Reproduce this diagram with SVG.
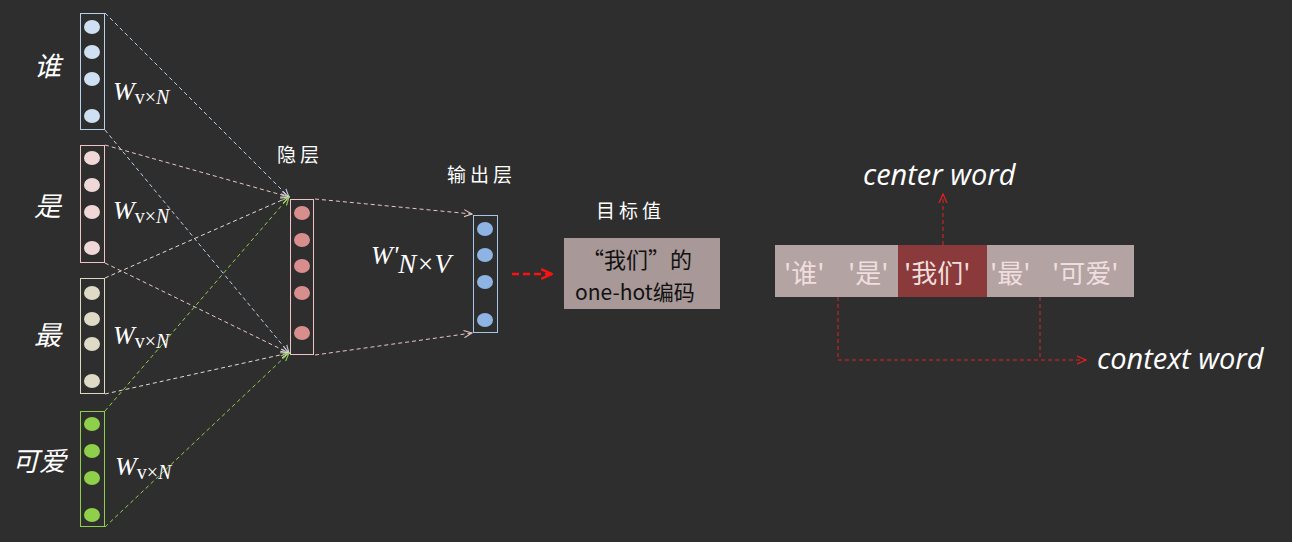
<svg xmlns="http://www.w3.org/2000/svg" width="1292" height="542" viewBox="0 0 1292 542">
<style>
.lbl{font-family:"Noto Sans CJK SC",sans-serif;font-style:italic;font-size:27px;fill:#ffffff}
.hd{font-family:"Noto Sans CJK SC",sans-serif;font-size:19px;fill:#ffffff;letter-spacing:4px}
.w{font-family:"Liberation Serif",serif;font-style:italic;font-size:26px;fill:#ffffff}
.ws{font-family:"Liberation Serif",serif;font-style:normal;font-size:20px;fill:#ffffff}
.en{font-family:"Open Sans","Liberation Sans",sans-serif;font-style:italic;font-size:29px;fill:#ffffff}
.tok{font-family:"Noto Sans CJK SC",sans-serif;font-size:26px;fill:#f0dede}
.c{stroke-width:1;fill:none;stroke-dasharray:4 3}
</style>
<defs>
<marker id="ab" viewBox="0 0 10 10" refX="9" refY="5" markerWidth="9" markerHeight="9" orient="auto" markerUnits="userSpaceOnUse"><path d="M0,1 L9,5 L0,9" fill="none" stroke="#b8d0ea" stroke-width="1.2"/></marker>
<marker id="ap" viewBox="0 0 10 10" refX="9" refY="5" markerWidth="9" markerHeight="9" orient="auto" markerUnits="userSpaceOnUse"><path d="M0,1 L9,5 L0,9" fill="none" stroke="#e8c8c8" stroke-width="1.2"/></marker>
<marker id="aw" viewBox="0 0 10 10" refX="9" refY="5" markerWidth="9" markerHeight="9" orient="auto" markerUnits="userSpaceOnUse"><path d="M0,1 L9,5 L0,9" fill="none" stroke="#e0ddd0" stroke-width="1.2"/></marker>
<marker id="ag" viewBox="0 0 10 10" refX="9" refY="5" markerWidth="9" markerHeight="9" orient="auto" markerUnits="userSpaceOnUse"><path d="M0,1 L9,5 L0,9" fill="none" stroke="#8fcf4a" stroke-width="1.2"/></marker>
<marker id="ar" viewBox="0 0 10 10" refX="9" refY="5" markerWidth="10" markerHeight="10" orient="auto" markerUnits="userSpaceOnUse"><path d="M0,1 L9,5 L0,9" fill="none" stroke="#e02020" stroke-width="1.3"/></marker>
<marker id="arb" viewBox="0 0 10 10" refX="9" refY="5" markerWidth="12" markerHeight="12" orient="auto" markerUnits="userSpaceOnUse"><path d="M0,1 L9,5 L0,9" fill="none" stroke="#ff1010" stroke-width="2"/></marker>
</defs>
<rect width="1292" height="542" fill="#2e2e2e"/>

<g id="connectors">
<line class="c" x1="105" y1="13" x2="289" y2="197" stroke="#b8d0ea" marker-end="url(#ab)"/>
<line class="c" x1="105" y1="130" x2="289" y2="353" stroke="#b8d0ea" marker-end="url(#ab)"/>
<line class="c" x1="105" y1="145" x2="289" y2="197" stroke="#e8c8c8" marker-end="url(#ap)"/>
<line class="c" x1="105" y1="263" x2="289" y2="353" stroke="#e8c8c8" marker-end="url(#ap)"/>
<line class="c" x1="105" y1="278" x2="289" y2="197" stroke="#e0ddd0" marker-end="url(#aw)"/>
<line class="c" x1="105" y1="394" x2="289" y2="353" stroke="#e0ddd0" marker-end="url(#aw)"/>
<line class="c" x1="105" y1="411" x2="289" y2="197" stroke="#8fcf4a" marker-end="url(#ag)"/>
<line class="c" x1="105" y1="527" x2="289" y2="353" stroke="#8fcf4a" marker-end="url(#ag)"/>
<line class="c" x1="315" y1="199" x2="472" y2="214" stroke="#e8c8c8" marker-end="url(#ap)"/>
<line class="c" x1="315" y1="355" x2="472" y2="333" stroke="#e8c8c8" marker-end="url(#ap)"/>
<line x1="512" y1="274" x2="552" y2="274" stroke="#ff1010" stroke-width="2.5" stroke-dasharray="7 4" marker-end="url(#arb)"/>
<line class="c" x1="943" y1="245" x2="943" y2="194" stroke="#e02020" marker-end="url(#ar)"/>
<polyline class="c" points="838,297 838,360 1086,360" stroke="#e02020" marker-end="url(#ar)"/>
<line class="c" x1="1040" y1="297" x2="1040" y2="360" stroke="#e02020"/>
</g>

<g id="input-shui">
<rect x="80.5" y="13.5" width="24" height="116" fill="none" stroke="#b8d0ea"/>
<ellipse cx="92" cy="27" rx="8" ry="7" fill="#cfe0f2"/>
<ellipse cx="92" cy="52" rx="8" ry="7" fill="#cfe0f2"/>
<ellipse cx="92" cy="79" rx="8" ry="7" fill="#cfe0f2"/>
<ellipse cx="92" cy="116" rx="8" ry="7" fill="#cfe0f2"/>
<text class="lbl" x="34" y="76">谁</text>
<text class="w" x="113" y="100">W<tspan class="ws" dy="4">v×<tspan font-style="italic">N</tspan></tspan></text>
</g>
<g id="input-shi">
<rect x="80.5" y="145.5" width="24" height="117" fill="none" stroke="#eec4c4"/>
<ellipse cx="92" cy="158" rx="8" ry="7" fill="#f0d8d8"/>
<ellipse cx="92" cy="185" rx="8" ry="7" fill="#f0d8d8"/>
<ellipse cx="92" cy="212" rx="8" ry="7" fill="#f0d8d8"/>
<ellipse cx="92" cy="248" rx="8" ry="7" fill="#f0d8d8"/>
<text class="lbl" x="34" y="216">是</text>
<text class="w" x="113" y="219">W<tspan class="ws" dy="4">v×<tspan font-style="italic">N</tspan></tspan></text>
</g>
<g id="input-zui">
<rect x="80.5" y="278.5" width="24" height="115" fill="none" stroke="#ddd8c0"/>
<ellipse cx="92" cy="293" rx="8" ry="7" fill="#dedac6"/>
<ellipse cx="92" cy="319" rx="8" ry="7" fill="#dedac6"/>
<ellipse cx="92" cy="344" rx="8" ry="7" fill="#dedac6"/>
<ellipse cx="92" cy="381" rx="8" ry="7" fill="#dedac6"/>
<text class="lbl" x="34" y="345">最</text>
<text class="w" x="113" y="344">W<tspan class="ws" dy="4">v×<tspan font-style="italic">N</tspan></tspan></text>
</g>
<g id="input-keai">
<rect x="80.5" y="411.5" width="24" height="115" fill="none" stroke="#8fcf4a"/>
<ellipse cx="92" cy="424" rx="8" ry="7" fill="#8fd04a"/>
<ellipse cx="92" cy="451" rx="8" ry="7" fill="#8fd04a"/>
<ellipse cx="92" cy="478" rx="8" ry="7" fill="#8fd04a"/>
<ellipse cx="92" cy="515" rx="8" ry="7" fill="#8fd04a"/>
<text class="lbl" x="12" y="471">可爱</text>
<text class="w" x="115" y="475">W<tspan class="ws" dy="4">v×<tspan font-style="italic">N</tspan></tspan></text>
</g>
<g id="hidden">
<rect x="290.5" y="199.5" width="23" height="155" fill="none" stroke="#eec4c4"/>
<ellipse cx="302" cy="213" rx="8" ry="7" fill="#d98e8e"/>
<ellipse cx="302" cy="240" rx="8" ry="7" fill="#d98e8e"/>
<ellipse cx="302" cy="266" rx="8" ry="7" fill="#d98e8e"/>
<ellipse cx="302" cy="293" rx="8" ry="7" fill="#d98e8e"/>
<ellipse cx="302" cy="333" rx="8" ry="7" fill="#d98e8e"/>
<text class="hd" x="277" y="162">隐层</text>
</g>
<g id="output">
<rect x="473.5" y="215.5" width="24" height="117" fill="none" stroke="#a8c4e6"/>
<ellipse cx="485" cy="229" rx="8" ry="7" fill="#8eb4e4"/>
<ellipse cx="485" cy="255" rx="8" ry="7" fill="#8eb4e4"/>
<ellipse cx="485" cy="282" rx="8" ry="7" fill="#8eb4e4"/>
<ellipse cx="485" cy="320" rx="8" ry="7" fill="#8eb4e4"/>
<text class="hd" x="447" y="182">输出层</text>
<text class="w" x="371" y="264" font-size="38">W'<tspan font-style="italic" font-size="27" dy="9">N×V</tspan></text>
</g>
<g id="target">
<text class="hd" x="596" y="218">目标值</text>
<rect x="564" y="238" width="156" height="71" fill="#a89898"/>
<text x="582" y="268" font-family="Noto Sans CJK SC,sans-serif" font-size="22" fill="#111">“我们”的</text>
<text x="575" y="300" font-family="Noto Sans CJK SC,sans-serif" font-size="21" fill="#111">one-hot编码</text>
</g>
<g id="sentence">
<rect x="775" y="245" width="123" height="52" fill="#b3a3a3"/>
<rect x="898" y="245" width="89" height="52" fill="#8a3a3a"/>
<rect x="987" y="245" width="147" height="52" fill="#b3a3a3"/>
<text class="tok" x="784" y="283">'谁'</text>
<text class="tok" x="848" y="283">'是'</text>
<text class="tok" x="904" y="283" fill="#d08a8a">'我们'</text>
<text class="tok" x="990" y="283">'最'</text>
<text class="tok" x="1052" y="283">'可爱'</text>
<text class="en" x="863" y="185">center word</text>
<text class="en" x="1097" y="369">context word</text>
</g>
</svg>
